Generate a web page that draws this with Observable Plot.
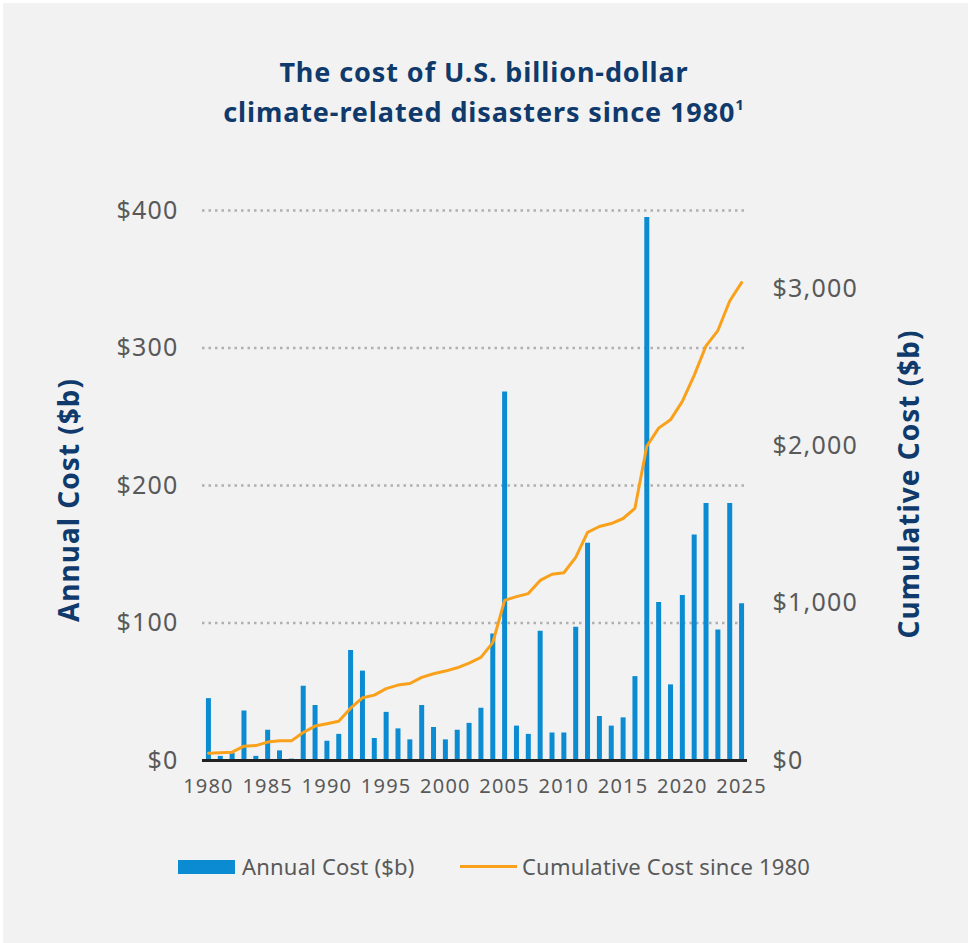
<!DOCTYPE html>
<html>
<head>
<meta charset="utf-8">
<script src="https://cdn.jsdelivr.net/npm/d3@7"></script>
<script src="https://cdn.jsdelivr.net/npm/@observablehq/plot@0.6"></script>
<style>
  html, body { margin: 0; padding: 0; background: #ffffff; }
  #wrap { position: absolute; left: 3px; top: 3px; width: 965px; height: 940px; background: #f2f2f2; overflow: hidden; }
  #chart { position: absolute; left: -3px; top: -3px; }
  #chart svg text { letter-spacing: 1.2px; }
  .title { position: absolute; left: -3px; top: 49px; width: 968px; text-align: center; font-family: "Noto Sans", sans-serif; font-weight: 700; font-size: 27px; line-height: 40px; letter-spacing: 0.9px; color: #0f3a6b; }
  .title sup { font-size: 15px; vertical-align: 12px; line-height: 0; }
  .ylab { position: absolute; font-family: "Noto Sans", sans-serif; font-weight: 700; font-size: 28px; letter-spacing: 1px; color: #0f3a6b; white-space: nowrap; transform: translate(-50%, -50%) rotate(-90deg); }
  .legend { position: absolute; top: 849px; left: 0; font-family: "Noto Sans", sans-serif; font-size: 22px; letter-spacing: 0.2px; color: #595959; }
  .legend .item { position: absolute; white-space: nowrap; top: 0; line-height: 28px; }
  .sw { position: absolute; }
</style>
</head>
<body>
<div id="wrap">
  <div id="chart"></div>
  <div class="title">The cost of U.S. billion-dollar<br>climate-related disasters since 1980<sup>1</sup></div>
  <div class="ylab" style="left:65px; top:497px;">Annual Cost ($b)</div>
  <div class="ylab" style="left:905px; top:481px;">Cumulative Cost ($b)</div>
  <div class="legend">
    <div class="sw" style="left:175px; top:8px; width:57px; height:14px; background:#0a8bd2;"></div>
    <div class="item" style="left:239px;">Annual Cost ($b)</div>
    <div class="sw" style="left:457px; top:13px; width:57px; height:3px; background:#f9a11b;"></div>
    <div class="item" style="left:519px;">Cumulative Cost since 1980</div>
  </div>
</div>
<script>
const years = d3.range(1980, 2026);
const annualCost = [
  45, 3, 5, 36, 3, 22, 7, 1, 54, 40,
  14, 19, 80, 65, 16, 35, 23, 15, 40, 24,
  15, 22, 27, 38, 92, 268, 25, 19, 94, 20,
  20, 97, 158, 32, 25, 31, 61, 395, 115, 55,
  120, 164, 187, 95, 187, 114
];
const cumulativeCost = [
  46, 49, 53, 91, 95, 117, 125, 125, 178, 219,
  234, 250, 333, 399, 416, 457, 480, 490, 529, 552,
  569, 590, 620, 656, 750, 1019, 1043, 1062, 1146, 1185,
  1195, 1293, 1452, 1489, 1508, 1540, 1605, 2000, 2115, 2168,
  2285, 2451, 2639, 2736, 2924, 3041
];
const leftTicks = [0, 100, 200, 300, 400];
const rightTicks = [0, 1000, 2000, 3000];
const xTicks = [1980, 1985, 1990, 1995, 2000, 2005, 2010, 2015, 2020, 2025];

const leftMax = 400, rightMax = 3500;
const k = leftMax / rightMax;

const data = years.map((y, i) => ({year: y, annual: annualCost[i], cum: cumulativeCost[i]}));
const fmtComma = d3.format(",");

const plot = Plot.plot({
  width: 968,
  height: 840,
  marginTop: 210,
  marginBottom: 80,
  marginLeft: 202,
  marginRight: 221,
  style: {background: "transparent", fontFamily: "'Noto Sans', sans-serif", color: "#595959"},
  x: {domain: [1979.5, 2025.5]},
  y: {domain: [0, leftMax]},
  marks: [
    Plot.ruleY(leftTicks.filter(d => d > 0), {stroke: "#b0b0b0", strokeWidth: 2.5, strokeDasharray: "2.5,4"}),
    Plot.ruleX(data, {x: "year", y1: 0, y2: "annual", stroke: "#0a8bd2", strokeWidth: 5}),
    Plot.ruleY([0], {stroke: "#222222", strokeWidth: 3}),
    Plot.line(data, {x: "year", y: d => d.cum * k, stroke: "#f9a11b", strokeWidth: 3, strokeLinejoin: "round"}),
    Plot.axisY(leftTicks, {anchor: "left", tickSize: 0, tickPadding: 24, fontSize: 25, tickFormat: d => "$" + d, label: null, fill: "#595959"}),
    Plot.axisY(rightTicks.map(d => d * k), {anchor: "right", tickSize: 0, tickPadding: 25, fontSize: 25, tickFormat: d => "$" + fmtComma(Math.round(d / k)), label: null, fill: "#595959"}),
    Plot.axisX(xTicks, {anchor: "bottom", tickSize: 0, tickPadding: 18, fontSize: 20, tickFormat: d => String(d), label: null, fill: "#595959"})
  ]
});
document.getElementById("chart").appendChild(plot);
</script>
</body>
</html>
